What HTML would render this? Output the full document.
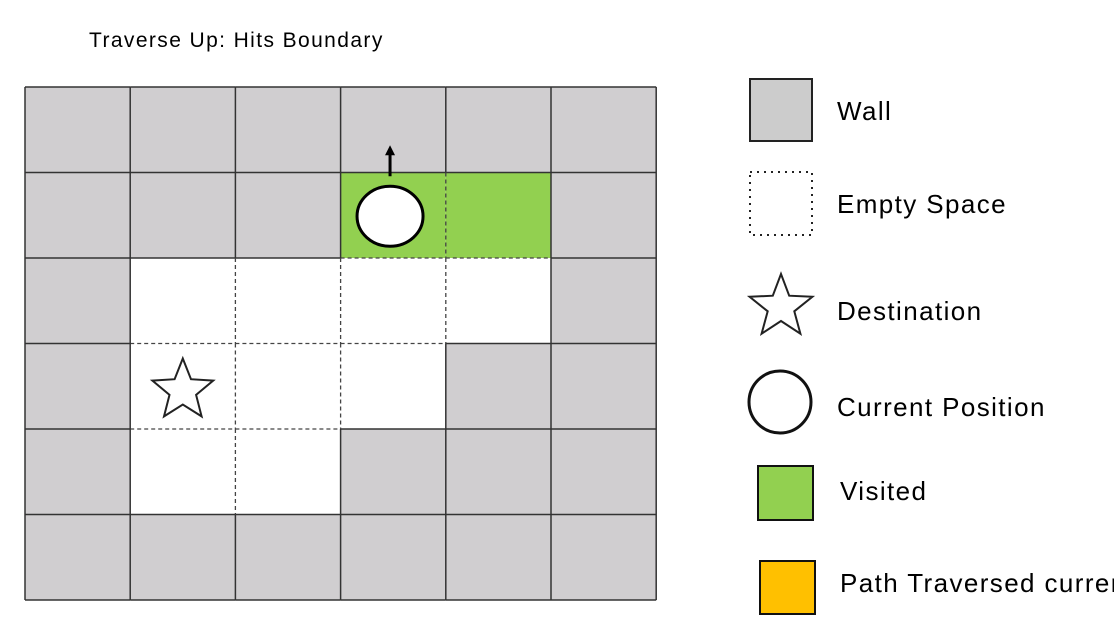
<!DOCTYPE html>
<html><head><meta charset="utf-8"><style>
body{margin:0;background:#fff;width:1114px;height:622px;overflow:hidden}
svg{display:block}
text{font-family:"Liberation Sans",sans-serif;fill:#000}
.lg{font-size:26px;letter-spacing:1.4px}
</style></head><body>
<svg id="s" width="1114" height="622" viewBox="0 0 1114 622">
<text x="89" y="47" font-size="21" letter-spacing="1.4">Traverse Up: Hits Boundary</text>
<g id="grid"></g>
<g id="marks"></g>
<g>
<rect x="750" y="79" width="62" height="62" fill="#cccccc" stroke="#222" stroke-width="2"/>
<text class="lg" x="837" y="120">Wall</text>
<rect x="750" y="172" width="62" height="63" fill="#fff" stroke="#222" stroke-width="2" stroke-dasharray="2,5"/>
<text class="lg" x="837" y="213">Empty Space</text>
<polygon id="lstar" fill="#fff" stroke="#222" stroke-width="2"/>
<text class="lg" x="837" y="320">Destination</text>
<circle cx="780" cy="402" r="31" fill="#fff" stroke="#111" stroke-width="3"/>
<text class="lg" x="837" y="416">Current Position</text>
<rect x="758" y="466" width="55" height="54" fill="#92d050" stroke="#111" stroke-width="2"/>
<text class="lg" x="840" y="500">Visited</text>
<rect x="760" y="561" width="55" height="53" fill="#ffc000" stroke="#111" stroke-width="2"/>
<text class="lg" x="840" y="592">Path Traversed current</text>
</g>
</svg>
<script>
// W=wall, E=empty, V=visited
const gridRows=["WWWWWW","WWWVVW","WEEEEW","WEEEWW","WEEWWW","WWWWWW"];
const current=[1,3];
const destination=[3,1];
const x0=25,y0=87,cw=105.2,ch=85.5;
const NS="http://www.w3.org/2000/svg";
const g=document.getElementById('grid'),m=document.getElementById('marks');
const fills={W:"#d0ced0",E:"#ffffff",V:"#92d050"};
function mk(t,a,p){const e=document.createElementNS(NS,t);for(const k in a)e.setAttribute(k,a[k]);p.appendChild(e);return e;}
const R=gridRows.length,C=gridRows[0].length;
const cell=(r,c)=>(r<0||c<0||r>=R||c>=C)?"W":gridRows[r][c];
for(let r=0;r<R;r++)for(let c=0;c<C;c++){
 const e=mk('rect',{x:x0+c*cw,y:y0+r*ch,width:cw,height:ch,fill:fills[cell(r,c)]},g);
 
 
}
function edge(x1,y1,x2,y2,solid){
 const e=mk('line',{x1,y1,x2,y2,stroke:solid?"#333":"#444","stroke-width":solid?1.5:1.3},g);
 if(!solid)e.setAttribute('stroke-dasharray','4,3');
 
 
}
for(let r=0;r<=R;r++)for(let c=0;c<C;c++){
 const solid=cell(r-1,c)=="W"||cell(r,c)=="W";
 edge(x0+c*cw,y0+r*ch,x0+(c+1)*cw,y0+r*ch,solid);
}
for(let c=0;c<=C;c++)for(let r=0;r<R;r++){
 const solid=cell(r,c-1)=="W"||cell(r,c)=="W";
 edge(x0+c*cw,y0+r*ch,x0+c*cw,y0+(r+1)*ch,solid);
}
function starPts(cx,cy,ro,ri){let p=[];for(let i=0;i<10;i++){const a=-Math.PI/2+i*Math.PI/5,rr=i%2?ri:ro;p.push((cx+rr*Math.cos(a)).toFixed(1)+","+(cy+rr*Math.sin(a)).toFixed(1));}return p.join(" ");}
const cx=x0+(current[1]+0.47)*cw,cy=y0+(current[0]+0.5)*ch;
let e=mk('ellipse',{cx,cy:cy+1,rx:33,ry:30,fill:"#fff",stroke:"#000","stroke-width":3},m);


e=mk('line',{x1:cx,y1:cy-39,x2:cx,y2:cy-62,stroke:"#000","stroke-width":3},m);


e=mk('polygon',{points:`${cx-5},${cy-60} ${cx+5},${cy-60} ${cx},${cy-70}`,fill:"#000"},m);


const sx=x0+(destination[1]+0.5)*cw,sy=y0+(destination[0]+0.55)*ch;
e=mk('polygon',{points:starPts(sx,sy,32,14),fill:"#fff",stroke:"#222","stroke-width":2},m);


document.getElementById('lstar').setAttribute('points',starPts(781,307,33,14));
</script>
</body></html>
